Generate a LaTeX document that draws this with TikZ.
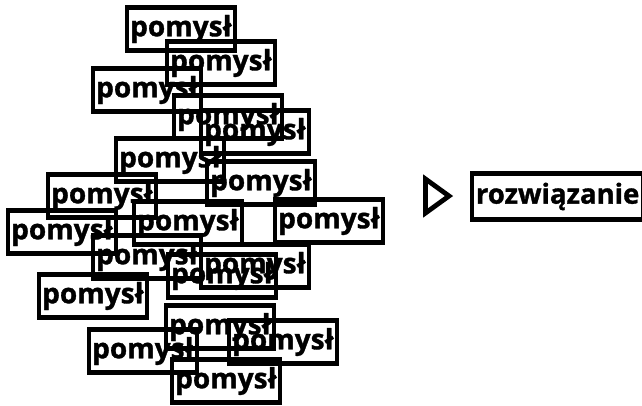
\documentclass[tikz,border=0pt]{standalone}
\usepackage{fontspec}
\setsansfont{Open Sans}[BoldFeatures={FakeBold=1.2}]
\begin{document}
\begin{tikzpicture}[x=1pt,y=-1pt,
  idea/.style={draw=black, line width=4.8pt, minimum width=108pt, minimum height=43pt,
    inner sep=0pt, font=\sffamily\bfseries\fontsize{28}{30}\selectfont},
  result/.style={draw=black, line width=4.8pt, minimum height=46pt, inner xsep=4pt,
    inner ysep=0pt, anchor=west, font=\sffamily\bfseries\fontsize{27.5}{30}\selectfont},
  marker/.style={draw=black, line width=4.8pt, line join=miter}]
\useasboundingbox (0,0) rectangle (642,405);
\node[idea] (p1) at (181,29) {pomysł};
\node[idea] (p2) at (221,63) {pomysł};
\node[idea] (p3) at (147,90) {pomysł};
\node[idea] (p4) at (228,117) {pomysł};
\node[idea] (p5) at (255,132) {pomysł};
\node[idea] (p6) at (170,160) {pomysł};
\node[idea] (p7) at (261,183) {pomysł};
\node[idea] (p8) at (102,196) {pomysł};
\node[idea] (p9) at (62,232) {pomysł};
\node[idea] (p10) at (188,223) {pomysł};
\node[idea] (p11) at (329,221) {pomysł};
\node[idea] (p12) at (147,257) {pomysł};
\node[idea] (p13) at (255,266) {pomysł};
\node[idea] (p14) at (222,276) {pomysł};
\node[idea] (p15) at (93,296) {pomysł};
\node[idea] (p16) at (220,327) {pomysł};
\node[idea] (p17) at (283,342) {pomysł};
\node[idea] (p18) at (143,351) {pomysł};
\node[idea] (p19) at (226,381) {pomysł};
\coordinate (t1) at (425.5,179);
\coordinate (t2) at (425.5,213);
\coordinate (t3) at (449,196);
\draw[marker] (t1) -- (t2) -- (t3) -- cycle;
\node[result] (r) at (469.5,196.5) {rozwiązanie};
\end{tikzpicture}
\end{document}
